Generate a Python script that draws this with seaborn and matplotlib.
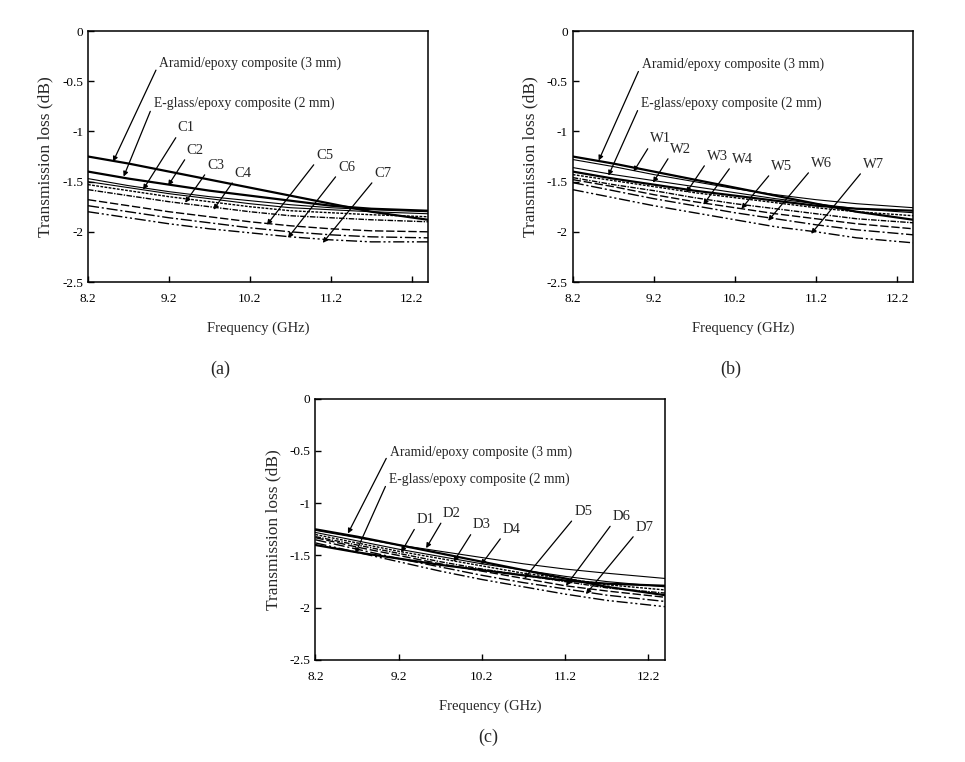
import matplotlib
matplotlib.use("Agg")
import matplotlib.pyplot as plt
from matplotlib.ticker import FormatStrFormatter
import seaborn as sns
import pandas as pd

# frequency grid (GHz)
freq = [8.2, 8.7, 9.2, 9.7, 10.2, 10.7, 11.2, 11.7, 12.4]

# reference panels (same in all three)
aramid = [-1.25, -1.32, -1.40, -1.48, -1.56, -1.64, -1.72, -1.80, -1.88]
eglass = [-1.40, -1.47, -1.53, -1.59, -1.64, -1.69, -1.74, -1.77, -1.79]

# (a) C series
c1 = [-1.47, -1.54, -1.60, -1.65, -1.69, -1.73, -1.76, -1.78, -1.80]
c2 = [-1.50, -1.56, -1.62, -1.67, -1.72, -1.76, -1.78, -1.80, -1.82]
c3 = [-1.53, -1.59, -1.65, -1.70, -1.75, -1.79, -1.81, -1.83, -1.85]
c4 = [-1.58, -1.64, -1.70, -1.75, -1.80, -1.84, -1.86, -1.88, -1.90]
c5 = [-1.68, -1.74, -1.80, -1.85, -1.90, -1.94, -1.97, -1.99, -2.00]
c6 = [-1.74, -1.80, -1.86, -1.91, -1.96, -2.00, -2.03, -2.05, -2.06]
c7 = [-1.80, -1.86, -1.92, -1.97, -2.01, -2.05, -2.08, -2.10, -2.10]

# (b) W series
w1 = [-1.28, -1.35, -1.43, -1.50, -1.57, -1.63, -1.68, -1.72, -1.76]
w2 = [-1.36, -1.43, -1.49, -1.55, -1.61, -1.67, -1.72, -1.77, -1.81]
w3 = [-1.43, -1.49, -1.55, -1.61, -1.66, -1.71, -1.76, -1.80, -1.84]
w4 = [-1.46, -1.53, -1.59, -1.66, -1.72, -1.77, -1.82, -1.87, -1.91]
w5 = [-1.48, -1.55, -1.63, -1.70, -1.76, -1.82, -1.87, -1.92, -1.97]
w6 = [-1.51, -1.59, -1.67, -1.74, -1.81, -1.87, -1.93, -1.98, -2.03]
w7 = [-1.58, -1.66, -1.74, -1.81, -1.88, -1.95, -2.00, -2.06, -2.11]

# (c) D series
d1 = [-1.28, -1.36, -1.44, -1.51, -1.58, -1.64, -1.70, -1.75, -1.80]
d2 = [-1.26, -1.33, -1.40, -1.46, -1.52, -1.58, -1.63, -1.67, -1.72]
d3 = [-1.30, -1.38, -1.46, -1.53, -1.60, -1.67, -1.72, -1.78, -1.83]
d4 = [-1.32, -1.40, -1.48, -1.56, -1.63, -1.69, -1.75, -1.81, -1.86]
d5 = [-1.33, -1.42, -1.50, -1.58, -1.65, -1.72, -1.79, -1.84, -1.90]
d6 = [-1.35, -1.44, -1.53, -1.61, -1.69, -1.76, -1.82, -1.88, -1.94]
d7 = [-1.38, -1.47, -1.56, -1.65, -1.73, -1.80, -1.87, -1.93, -1.99]

xticks = [8.2, 9.2, 10.2, 11.2, 12.2]
yticks = [0, -0.5, -1, -1.5, -2, -2.5]

sns.set_style("ticks")
plt.rcParams["font.family"] = ["Liberation Serif", "DejaVu Serif"]
plt.rcParams["axes.unicode_minus"] = False

# line styles for series 1..7
styles = [
    dict(linestyle="-", lw=0.8),
    dict(linestyle="-", lw=0.8),
    dict(linestyle=(0, (2, 1)), lw=1.0),
    dict(linestyle=(0, (4, 1, 1, 1)), lw=1.0),
    dict(linestyle=(0, (6, 2)), lw=1.0),
    dict(linestyle=(0, (8, 2, 1.5, 2)), lw=1.0),
    dict(linestyle=(0, (8, 2, 1.5, 2, 1.5, 2)), lw=1.0),
]

panels = [
    dict(rect=[0.0912, 0.6299, 0.3523, 0.3294], names=["C%d" % i for i in range(1, 8)],
         series=[c1, c2, c3, c4, c5, c6, c7],
         ref_ann=[((9.08, -0.32), (8.51, -1.30)), ((9.01, -0.72), (8.64, -1.45))],
         ann=[((9.31, -1.03), (8.88, -1.58)), ((9.42, -1.25), (9.19, -1.54)),
              ((9.67, -1.40), (9.40, -1.71)), ((10.01, -1.48), (9.75, -1.78)),
              ((11.02, -1.30), (10.41, -1.93)), ((11.29, -1.42), (10.67, -2.06)),
              ((11.74, -1.48), (11.10, -2.11))]),
    dict(rect=[0.5935, 0.6299, 0.3530, 0.3294], names=["W%d" % i for i in range(1, 8)],
         series=[w1, w2, w3, w4, w5, w6, w7],
         ref_ann=[((9.05, -0.33), (8.52, -1.29)), ((9.04, -0.72), (8.64, -1.44))],
         ann=[((9.15, -1.14), (8.95, -1.40)), ((9.40, -1.24), (9.19, -1.51)),
              ((9.85, -1.31), (9.60, -1.61)), ((10.16, -1.34), (9.81, -1.73)),
              ((10.65, -1.41), (10.28, -1.77)), ((11.14, -1.38), (10.61, -1.89)),
              ((11.78, -1.39), (11.14, -2.02))]),
    dict(rect=[0.3269, 0.1339, 0.3622, 0.3429], names=["D%d" % i for i in range(1, 8)],
         series=[d1, d2, d3, d4, d5, d6, d7],
         ref_ann=[((9.09, -0.51), (8.59, -1.29)), ((9.08, -0.77), (8.68, -1.48))],
         ann=[((9.41, -1.22), (9.23, -1.47)), ((9.73, -1.16), (9.53, -1.43)),
              ((10.09, -1.27), (9.86, -1.56)), ((10.45, -1.31), (10.19, -1.59)),
              ((11.31, -1.14), (10.71, -1.72)), ((11.77, -1.19), (11.21, -1.79)),
              ((12.05, -1.29), (11.45, -1.87))]),
]

fig = plt.figure(figsize=(9.65, 7.62), dpi=100)
arrow_ref = dict(arrowstyle="-|>", color="k", lw=0.9, mutation_scale=7,
                 shrinkA=0, shrinkB=0, relpos=(0, 0.5))
arrow_lbl = dict(arrowstyle="-|>", color="k", lw=0.9, mutation_scale=7,
                 shrinkA=0, shrinkB=0, relpos=(0, 0))

for p in panels:
    ax = fig.add_axes(p["rect"])
    df = pd.DataFrame({"freq": freq, "aramid": aramid, "eglass": eglass})
    sns.lineplot(data=df, x="freq", y="aramid", ax=ax, color="k", lw=1.6)
    sns.lineplot(data=df, x="freq", y="eglass", ax=ax, color="k", lw=1.6)
    for vals, st in zip(p["series"], styles):
        sns.lineplot(x=freq, y=vals, ax=ax, color="k", **st)

    ax.set_xlim(8.2, 12.4)
    ax.set_ylim(-2.5, 0)
    ax.set_xticks(xticks)
    ax.set_yticks(yticks)
    ax.xaxis.set_major_formatter(FormatStrFormatter("%.1f"))
    ax.yaxis.set_major_formatter(FormatStrFormatter("%g"))
    ax.tick_params(direction="in", length=4, width=1, labelsize=9.5, colors="k")
    ax.tick_params(axis="x", pad=8)
    for s in ax.spines.values():
        s.set_visible(True)
        s.set_color("k")
        s.set_linewidth(1.1)
    ax.set_xlabel("Frequency (GHz)", fontsize=10.5, labelpad=12)
    ax.set_ylabel("Transmission loss (dB)", fontsize=12.5, labelpad=6)

    (t1, h1), (t2, h2) = p["ref_ann"]
    ax.annotate("Aramid/epoxy composite (3 mm)", xy=h1, xytext=t1, ha="left", va="center",
                fontsize=9.8, arrowprops=arrow_ref)
    ax.annotate("E-glass/epoxy composite (2 mm)", xy=h2, xytext=t2, ha="left", va="center",
                fontsize=9.8, arrowprops=arrow_ref)
    for name, (tail, head) in zip(p["names"], p["ann"]):
        ax.annotate(name, xy=head, xytext=tail, ha="left", va="bottom",
                    fontsize=10.5, arrowprops=arrow_lbl)

fig.text(0.228, 0.515, "(a)", fontsize=13, ha="center", va="center")
fig.text(0.757, 0.515, "(b)", fontsize=13, ha="center", va="center")
fig.text(0.506, 0.033, "(c)", fontsize=13, ha="center", va="center")

fig.savefig("out.png", dpi=100)
